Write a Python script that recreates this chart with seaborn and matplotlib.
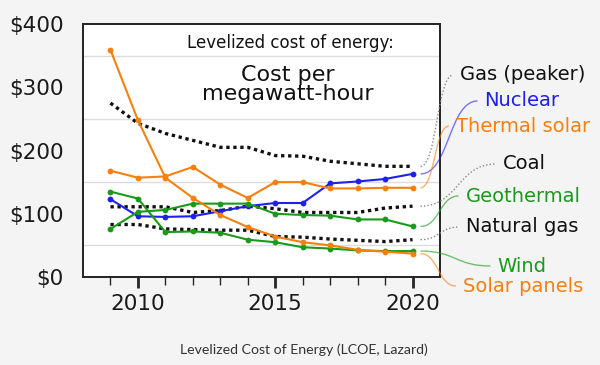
import numpy as np
import pandas as pd
import matplotlib
matplotlib.use("Agg")
import matplotlib.pyplot as plt
from matplotlib.path import Path
from matplotlib.patches import PathPatch
from matplotlib.ticker import FixedLocator
import seaborn as sns

# Lazard LCOE, $ per MWh
years = [2009, 2010, 2011, 2012, 2013, 2014, 2015, 2016, 2017, 2018, 2019, 2020]
gas_peaker = [275, 243, 227, 216, 205, 205, 192, 191, 183, 179, 175, 175]
nuclear = [123, 96, 95, 96, 104, 112, 117, 117, 148, 151, 155, 163]
thermal_solar = [168, 157, 159, 174, 146, 125, 150, 150, 140, 140, 141, 141]
coal = [111, 111, 111, 102, 105, 112, 108, 102, 102, 102, 109, 112]
geothermal = [76, 103, 106, 116, 116, 116, 100, 98, 97, 91, 91, 80]
natural_gas = [83, 83, 76, 75, 74, 74, 64, 63, 60, 58, 56, 59]
wind = [135, 124, 71, 72, 70, 59, 55, 47, 45, 42, 41, 41]
solar_panels = [359, 248, 157, 125, 98, 79, 64, 55, 50, 43, 40, 37]

names = ["Gas (peaker)", "Nuclear", "Thermal solar", "Coal",
         "Geothermal", "Natural gas", "Wind", "Solar panels"]
series = [gas_peaker, nuclear, thermal_solar, coal,
          geothermal, natural_gas, wind, solar_panels]

y_ticks = [0, 100, 200, 300, 400]
y_labels = ["$0", "$100", "$200", "$300", "$400"]
y_grid = [50, 100, 150, 200, 250, 300, 350]
x_ticks = [2010, 2015, 2020]

ORANGE = "#f5800f"
BLUE = "#1f1fee"
GREEN = "#1a9a1a"
BLACK = "#111111"
colors = [BLACK, BLUE, ORANGE, BLACK, GREEN, BLACK, GREEN, ORANGE]
dotted = [True, False, False, True, False, True, False, False]

# label centres in figure pixels (600x365)
label_pos = [(523, 75), (522, 101), (523, 126), (524, 164),
             (523, 196), (522, 227), (522, 266), (523, 286)]

df = pd.DataFrame({
    "year": years * len(names),
    "cost": [v for s in series for v in s],
    "source": [n for n in names for _ in years],
})

sns.set_style("white")
plt.rcParams["font.family"] = ["DejaVu Sans"]

fig = plt.figure(figsize=(6, 3.65), dpi=100)
fig.patch.set_facecolor("#f4f4f4")
ax = fig.add_axes([83 / 600, 1 - 277 / 365, 357 / 600, 253 / 365])
ax.set_facecolor("white")

for name, col, dot in zip(names, colors, dotted):
    sub = df[df["source"] == name]
    if dot:
        sns.lineplot(data=sub, x="year", y="cost", ax=ax, color=col,
                     linewidth=2.4, linestyle=(0, (1, 1.1)), legend=False, zorder=3)
    else:
        sns.lineplot(data=sub, x="year", y="cost", ax=ax, color=col,
                     linewidth=1.5, marker="o", markersize=4.2,
                     markeredgewidth=0, legend=False, zorder=4)

ax.set_xlim(2008, 2021)
ax.set_ylim(0, 400)
ax.set_xlabel("")
ax.set_ylabel("")
ax.set_yticks(y_ticks)
ax.set_yticklabels(y_labels)
ax.yaxis.set_minor_locator(FixedLocator(y_grid))
ax.grid(False)
ax.grid(True, axis="y", which="minor", color="#dddddd", linewidth=1)
ax.set_axisbelow(True)
ax.set_xticks(x_ticks)
ax.set_xticklabels([str(t) for t in x_ticks])
ax.xaxis.set_minor_locator(FixedLocator(years))
ax.tick_params(axis="y", which="both", length=0, labelsize=15.5, pad=14, labelcolor="#1a1a1a")
ax.tick_params(axis="x", which="major", length=8, width=2, direction="out",
               labelsize=15.5, pad=4, labelcolor="#1a1a1a", bottom=True)
ax.tick_params(axis="x", which="minor", length=6, width=1, direction="out", bottom=True)
for sp in ax.spines.values():
    sp.set_visible(True)
    sp.set_color("#222222")
    sp.set_linewidth(1.4)
    sp.set_zorder(6)

ax.text(0.58, 0.925, "Levelized cost of energy:", transform=ax.transAxes,
        ha="center", va="center", fontsize=12, color=BLACK)
ax.text(0.574, 0.76, "Cost per\nmegawatt-hour", transform=ax.transAxes,
        ha="center", va="center", fontsize=16, linespacing=0.95, color=BLACK)

fig.text(0.507, 1 - 350 / 365, "Levelized Cost of Energy (LCOE, Lazard)",
         ha="center", va="center", fontsize=10.2, color="#333333", family="Lato")

# right side labels with S-shaped connectors
fig.canvas.draw()
renderer = fig.canvas.get_renderer()
to_fig = fig.transFigure.inverted()
for name, col, dot, s, (px, py) in zip(names, colors, dotted, series, label_pos):
    t = fig.text(px / 600, 1 - py / 365, name, ha="center", va="center",
                 fontsize=14, color=col)
    bb = t.get_window_extent(renderer)
    x0, y0 = ax.transData.transform((years[-1], s[-1]))
    x0 += 8
    x1 = bb.x0 - 7
    y1 = (bb.y0 + bb.y1) / 2
    dx = (x1 - x0) * 0.5
    pts = to_fig.transform([(x0, y0), (x0 + dx, y0), (x1 - dx, y1), (x1, y1)])
    path = Path(pts, [Path.MOVETO, Path.CURVE4, Path.CURVE4, Path.CURVE4])
    if dot:
        patch = PathPatch(path, facecolor="none", edgecolor="#888888",
                          linewidth=1, linestyle=(0, (1, 1.5)), transform=fig.transFigure)
    else:
        patch = PathPatch(path, facecolor="none", edgecolor=col, alpha=0.6,
                          linewidth=1, transform=fig.transFigure)
    fig.add_artist(patch)

fig.savefig("out.png", dpi=100, facecolor=fig.get_facecolor())
